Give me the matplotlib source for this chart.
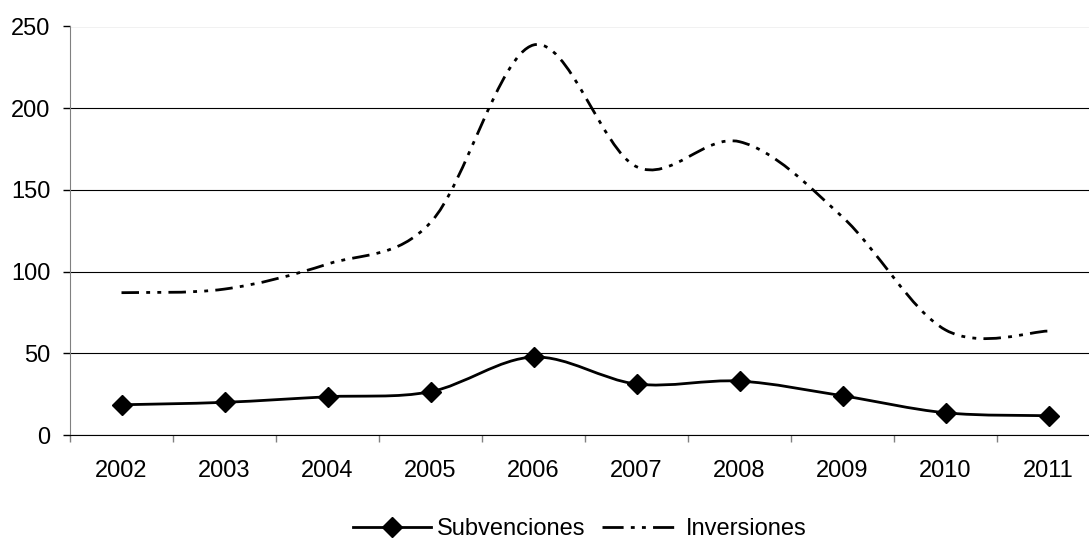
import numpy as np
import matplotlib
matplotlib.use("Agg")
import matplotlib.pyplot as plt
from matplotlib.path import Path
from matplotlib.patches import PathPatch
from matplotlib.lines import Line2D

plt.rcParams['font.family'] = ['Liberation Sans', 'DejaVu Sans']

years = ['2002', '2003', '2004', '2005', '2006', '2007', '2008', '2009', '2010', '2011']
subvenciones = [18.5, 20.0, 23.4, 26.5, 47.7, 31.2, 33.0, 24.0, 13.6, 11.8]
inversiones = [87.1, 89.3, 104.6, 130.0, 238.7, 164.2, 179.5, 133.4, 64.3, 63.6]
y_ticks = [0, 50, 100, 150, 200, 250]


def smooth_path(xs, ys):
    # bezier segments like the office "smoothed line" option
    p = np.column_stack([xs, ys]).astype(float)
    n = len(p)
    verts = [p[0]]
    codes = [Path.MOVETO]
    for i in range(n - 1):
        prev = p[i - 1] if i > 0 else p[i]
        nxt = p[i + 2] if i + 2 < n else p[i + 1]
        c1 = p[i] + (p[i + 1] - prev) / 6.0
        c2 = p[i + 1] - (nxt - p[i]) / 6.0
        verts += [c1, c2, p[i + 1]]
        codes += [Path.CURVE4] * 3
    return Path(verts, codes)


fig = plt.figure(figsize=(10.89, 5.40), dpi=100)
ax = fig.add_axes([70 / 1089, 105 / 540, 1030 / 1089, 408.5 / 540])

x = np.arange(len(years))
dashdotdot = (0, (6.3, 2.6, 1.4, 2.6, 1.4, 2.6))

ax.add_patch(PathPatch(smooth_path(x, inversiones), fill=False, lw=2,
                       edgecolor='black', linestyle=dashdotdot, zorder=3))
ax.add_patch(PathPatch(smooth_path(x, subvenciones), fill=False, lw=2,
                       edgecolor='black', zorder=3))
ax.plot(x, subvenciones, linestyle='none', marker='D', markersize=10,
        color='black', zorder=4)

ax.set_xlim(-0.5, len(years) - 0.5)
ax.set_ylim(0, 250)
ax.set_yticks(y_ticks)
ax.yaxis.grid(True, color='black', lw=0.8)
ax.set_axisbelow(True)

ax.set_xticks(x)
ax.set_xticklabels(years)
ax.set_xticks(np.arange(-0.5, len(years)), minor=True)
ax.tick_params(axis='x', which='major', length=0, pad=18, labelsize=17)
ax.tick_params(axis='x', which='minor', length=5, width=1, color='#808080')
ax.tick_params(axis='y', length=5, width=1, color='black', pad=9, labelsize=17)

for s in ['top', 'right']:
    ax.spines[s].set_visible(False)
ax.spines['left'].set_color('#808080')
ax.spines['bottom'].set_color('black')

# legend key: long dash, two dots, long dash
handles = [
    Line2D([], [], color='black', lw=2, marker='D', markersize=10),
    Line2D([], [], color='black', lw=2,
           linestyle=(0, (7.6, 2.6, 1.4, 2.6, 1.4, 2.6, 7.6, 2.6))),
]
fig.legend(handles, ['Subvenciones', 'Inversiones'], loc='center',
           bbox_to_anchor=(580 / 1089, 1 - 529 / 540), ncol=2, frameon=False,
           fontsize=17, handlelength=3.3, handletextpad=0.25, columnspacing=0.7)

fig.savefig('out.png', dpi=100)
